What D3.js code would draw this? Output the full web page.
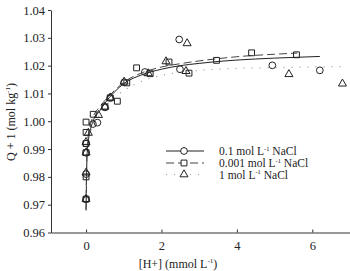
<!DOCTYPE html>
<html>
<head>
<meta charset="utf-8">
<script src="https://cdn.jsdelivr.net/npm/d3@7"></script>
<style>
  body { margin: 0; background: #fff; }
  text { font-family: "Liberation Serif", "DejaVu Serif", serif; fill: #222; }
</style>
</head>
<body>
<div id="chart"></div>
<script>
const w = 350;
const h = 271;

// observed points (x = [H+] mmol/L, y = Q + 1)
const circleX = [0, 0, 0, 0, 0.18, 0.3, 0.5, 0.64, 1.01, 1.56, 2.47, 2.49, 4.94, 6.2];
const circleY = [0.972, 0.981, 0.9887, 0.992, 0.999, 0.9995, 1.005, 1.0084, 1.014, 1.0177, 1.0294, 1.0187, 1.0201, 1.0183];

const squareX = [0, 0, 0, 0, 0, 0, 0.19, 0.5, 0.64, 0.83, 1.08, 1.34, 1.7, 2.2, 2.73, 3.46, 4.39, 5.58];
const squareY = [0.972, 0.980, 0.9887, 0.992, 0.996, 0.9997, 1.0025, 1.0052, 1.0084, 1.0072, 1.0138, 1.0192, 1.0171, 1.0213, 1.0173, 1.0219, 1.0246, 1.0239];

const triangleX = [0, 0, 0, 0, 0.06, 0.33, 0.5, 0.64, 1.01, 1.65, 2.12, 2.68, 2.65, 5.38, 6.8];
const triangleY = [0.972, 0.9815, 0.9887, 0.9925, 0.9958, 1.0022, 1.0052, 1.0085, 1.0142, 1.0172, 1.0215, 1.028, 1.018, 1.0169, 1.0135];

// fitted curves
const solidX = [0, 0.02, 0.05, 0.1, 0.2, 0.35, 0.5, 0.75, 1.0, 1.5, 2.0, 2.5, 3.0, 3.5, 4.0, 5.0, 6.2];
const solidY = [0.968, 0.985, 0.992, 0.996, 1.0005, 1.0035, 1.0065, 1.0105, 1.0135, 1.0168, 1.0187, 1.0200, 1.0208, 1.0215, 1.022, 1.0227, 1.0233];

const dashedX = [0, 0.02, 0.05, 0.1, 0.2, 0.35, 0.5, 0.75, 1.0, 1.5, 2.0, 2.5, 3.0, 3.5, 4.0, 5.0, 5.6];
const dashedY = [0.968, 0.988, 0.994, 0.998, 1.002, 1.005, 1.0075, 1.011, 1.014, 1.0175, 1.0195, 1.0207, 1.0217, 1.0225, 1.0232, 1.0241, 1.0245];

const dottedX = [0, 0.02, 0.05, 0.1, 0.2, 0.35, 0.5, 0.75, 1.0, 1.5, 2.0, 2.5, 3.0, 4.0, 5.0, 6.0, 6.9];
const dottedY = [0.968, 0.984, 0.991, 0.995, 0.999, 1.002, 1.005, 1.0085, 1.011, 1.0145, 1.0165, 1.0176, 1.0183, 1.019, 1.0193, 1.0195, 1.0197];

const xTicks = [0, 2, 4, 6];
const yTicks = [0.96, 0.97, 0.98, 0.99, 1.00, 1.01, 1.02, 1.03, 1.04];

const legendLabels = ["0.1 mol L", "0.001 mol L", "1 mol L"];

const zip = (xs, ys) => xs.map((x, i) => [x, ys[i]]);

const xScale = d3.scaleLinear().domain([-0.93, 7]).range([51, 350]);
const yScale = d3.scaleLinear().domain([0.96, 1.04]).range([232.5, 10]);

const svg = d3.select("#chart")
  .append("svg")
  .attr("width", w)
  .attr("height", h);

const line = d3.line()
  .x(d => xScale(d[0]))
  .y(d => yScale(d[1]))
  .curve(d3.curveMonotoneX);

const lineStyles = [
  { data: zip(solidX, solidY), stroke: "#222", dash: null, width: 1 },
  { data: zip(dashedX, dashedY), stroke: "#444", dash: "8,4", width: 1 },
  { data: zip(dottedX, dottedY), stroke: "#999", dash: "1,7", width: 1.2 }
];

svg.selectAll(".fit")
  .data(lineStyles)
  .enter()
  .append("path")
  .attr("class", "fit")
  .attr("d", d => line(d.data))
  .attr("fill", "none")
  .attr("stroke", d => d.stroke)
  .attr("stroke-width", d => d.width)
  .attr("stroke-dasharray", d => d.dash);

// axes
const xAxis = d3.axisBottom(xScale)
  .tickValues(xTicks)
  .tickFormat(d3.format("d"))
  .tickSizeInner(-3)
  .tickSizeOuter(0)
  .tickPadding(9);

const yAxis = d3.axisLeft(yScale)
  .tickValues(yTicks)
  .tickFormat(d3.format(".2f"))
  .tickSizeInner(3)
  .tickSizeOuter(0)
  .tickPadding(3);

const gx = svg.append("g")
  .attr("transform", `translate(0, ${yScale(0.96)})`)
  .call(xAxis);

const gy = svg.append("g")
  .attr("transform", `translate(${xScale(-0.93)}, 0)`)
  .call(yAxis);

[gx, gy].forEach(g => {
  g.selectAll("text").style("font-size", "12.5px").attr("fill", "#222");
  g.selectAll("line, path").attr("stroke", "#333");
});

// markers
const sym = (type, size) => d3.symbol().type(type).size(size)();

const drawMarkers = (data, type, size, cls) => {
  svg.selectAll("." + cls)
    .data(data)
    .enter()
    .append("path")
    .attr("class", cls)
    .attr("d", sym(type, size))
    .attr("transform", d => `translate(${xScale(d[0])}, ${yScale(d[1])})`)
    .attr("fill", "none")
    .attr("stroke", "#222")
    .attr("stroke-width", 1);
};

drawMarkers(zip(squareX, squareY), d3.symbolSquare, 34, "sq");
drawMarkers(zip(triangleX, triangleY), d3.symbolTriangle, 28, "tri");
drawMarkers(zip(circleX, circleY), d3.symbolCircle, 36, "circ");

// axis titles
const yt = svg.append("text")
  .attr("text-anchor", "middle")
  .attr("transform", `translate(15, 122) rotate(-90)`)
  .style("font-size", "12px");
yt.append("tspan").text("Q + 1 (mol kg");
yt.append("tspan").text("-1").style("font-size", "7px").attr("dy", -5);
yt.append("tspan").text(")").attr("dy", 5);

const xt = svg.append("text")
  .attr("text-anchor", "middle")
  .attr("x", 178)
  .attr("y", 268)
  .style("font-size", "12px");
xt.append("tspan").text("[H+] (mmol L");
xt.append("tspan").text("-1").style("font-size", "7px").attr("dy", -5);
xt.append("tspan").text(")").attr("dy", 5);

// legend
const legendY = [151, 163, 174.5];
const legendSym = [d3.symbolCircle, d3.symbolSquare, d3.symbolTriangle];
const legendSize = [36, 34, 28];

const legend = svg.append("g");

lineStyles.forEach((s, i) => {
  legend.append("line")
    .attr("x1", 166).attr("x2", 204)
    .attr("y1", legendY[i]).attr("y2", legendY[i])
    .attr("stroke", s.stroke)
    .attr("stroke-width", s.width)
    .attr("stroke-dasharray", s.dash);
  legend.append("path")
    .attr("d", sym(legendSym[i], legendSize[i]))
    .attr("transform", `translate(184, ${legendY[i]})`)
    .attr("fill", "#fff")
    .attr("stroke", "#222");
  const t = legend.append("text")
    .attr("x", 219)
    .attr("y", legendY[i] + 4)
    .style("font-size", "11.5px");
  t.append("tspan").text(legendLabels[i]);
  t.append("tspan").text("-1").style("font-size", "6.5px").attr("dy", -4.5);
  t.append("tspan").text(" NaCl").attr("dy", 4.5);
});
</script>
</body>
</html>
